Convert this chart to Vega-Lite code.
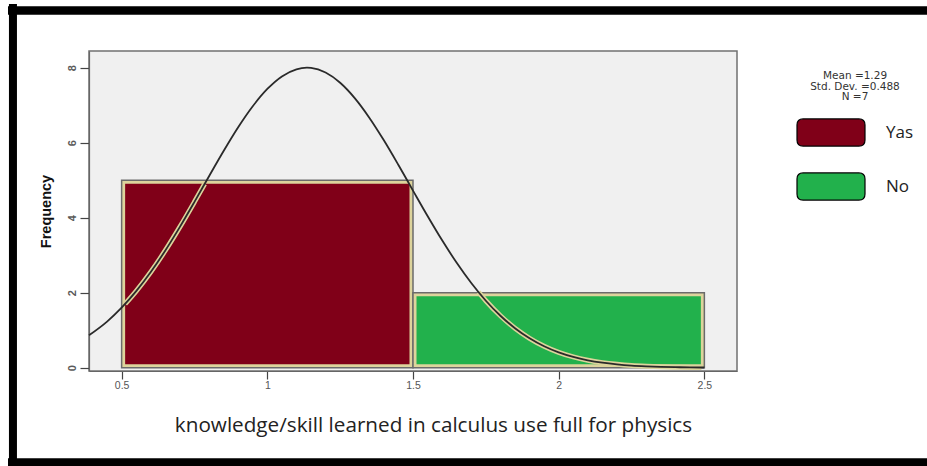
{
  "$schema": "https://vega.github.io/schema/vega-lite/v6.json",
  "width": 648,
  "height": 320,
  "autosize": {"type": "none"},
  "padding": {"left": 89, "top": 51, "right": 190, "bottom": 95},
  "background": "white",
  "view": {"fill": "#f0f0f0", "stroke": "#707070", "strokeWidth": 1.5},
  "config": {
    "font": "Liberation Sans",
    "axis": {"grid": false},
    "axisX": {
      "labelFont": "Liberation Sans", "labelFontSize": 10.5, "labelColor": "#555",
      "labelPadding": 1,
      "tickSize": 8, "tickColor": "#444", "tickWidth": 1.2,
      "domainColor": "#666", "domainWidth": 1.2,
      "titleFont": "Open Sans", "titleFontSize": 20.7, "titleFontWeight": "normal",
      "titleColor": "#222", "titleX": 344, "titleY": 54, "titleBaseline": "middle", "titleAlign": "center"
    },
    "axisY": {
      "labelAngle": 270, "labelFont": "Liberation Sans", "labelFontSize": 11,
      "labelFontWeight": "bold", "labelColor": "#5a5a5a", "labelPadding": 3,
      "tickSize": 9, "tickColor": "#444", "tickWidth": 1.2,
      "domainColor": "#666", "domainWidth": 1.2,
      "titleFont": "Liberation Sans", "titleFontSize": 14.5,
      "titleFontWeight": "bold", "titleColor": "#111", "titlePadding": 13
    }
  },
  "datasets": {
    "bins": [
      {"category": "Yas", "lo": 0.5, "hi": 1.5, "count": 5},
      {"category": "No", "lo": 1.5, "hi": 2.5, "count": 2}
    ],
    "curve": [
      {"x": 0.388, "y": 0.864}, {"x": 0.45, "y": 1.23}, {"x": 0.5, "y": 1.601}, {"x": 0.55, "y": 2.042},
      {"x": 0.6, "y": 2.551}, {"x": 0.65, "y": 3.126}, {"x": 0.7, "y": 3.755}, {"x": 0.75, "y": 4.422},
      {"x": 0.8, "y": 5.106}, {"x": 0.85, "y": 5.778}, {"x": 0.9, "y": 6.411}, {"x": 0.95, "y": 6.971},
      {"x": 1.0, "y": 7.432}, {"x": 1.05, "y": 7.768}, {"x": 1.1, "y": 7.958}, {"x": 1.136, "y": 8.0},
      {"x": 1.15, "y": 7.994}, {"x": 1.2, "y": 7.87}, {"x": 1.25, "y": 7.597}, {"x": 1.3, "y": 7.188},
      {"x": 1.35, "y": 6.667}, {"x": 1.4, "y": 6.063}, {"x": 1.45, "y": 5.405}, {"x": 1.5, "y": 4.723},
      {"x": 1.55, "y": 4.046}, {"x": 1.6, "y": 3.397}, {"x": 1.65, "y": 2.797}, {"x": 1.7, "y": 2.257},
      {"x": 1.75, "y": 1.785}, {"x": 1.8, "y": 1.385}, {"x": 1.85, "y": 1.053}, {"x": 1.9, "y": 0.785},
      {"x": 1.95, "y": 0.573}, {"x": 2.0, "y": 0.41}, {"x": 2.05, "y": 0.288}, {"x": 2.1, "y": 0.198},
      {"x": 2.15, "y": 0.134}, {"x": 2.2, "y": 0.089}, {"x": 2.25, "y": 0.057}, {"x": 2.3, "y": 0.037},
      {"x": 2.35, "y": 0.023}, {"x": 2.4, "y": 0.014}, {"x": 2.45, "y": 0.008}, {"x": 2.5, "y": 0.005}
    ],
    "halo": [
      {"seg": "a", "x": 0.512, "y": 1.7}, {"seg": "a", "x": 0.55, "y": 2.042}, {"seg": "a", "x": 0.6, "y": 2.551},
      {"seg": "a", "x": 0.65, "y": 3.126}, {"seg": "a", "x": 0.7, "y": 3.755}, {"seg": "a", "x": 0.75, "y": 4.422},
      {"seg": "a", "x": 0.785, "y": 4.9},
      {"seg": "b", "x": 1.725, "y": 2.013}, {"seg": "b", "x": 1.75, "y": 1.785}, {"seg": "b", "x": 1.8, "y": 1.385},
      {"seg": "b", "x": 1.85, "y": 1.053}, {"seg": "b", "x": 1.9, "y": 0.785}, {"seg": "b", "x": 1.95, "y": 0.573},
      {"seg": "b", "x": 2.0, "y": 0.41}, {"seg": "b", "x": 2.05, "y": 0.288}, {"seg": "b", "x": 2.1, "y": 0.198},
      {"seg": "b", "x": 2.15, "y": 0.134}, {"seg": "b", "x": 2.2, "y": 0.089}, {"seg": "b", "x": 2.25, "y": 0.057},
      {"seg": "b", "x": 2.3, "y": 0.037}, {"seg": "b", "x": 2.35, "y": 0.023}, {"seg": "b", "x": 2.4, "y": 0.014},
      {"seg": "b", "x": 2.45, "y": 0.008}, {"seg": "b", "x": 2.49, "y": 0.006}
    ],
    "hframe": [
      {"side": "top", "x": 0.11, "x2": 3.3, "y": 9.525},
      {"side": "bottom", "x": 0.11, "x2": 3.3, "y": -2.53}
    ],
    "vframe": [
      {"side": "left", "x": 0.127, "y": 9.7, "y2": -2.8}
    ]
  },
  "layer": [
    {
      "data": {"name": "bins"},
      "mark": {"type": "rect", "fill": "#ddd49c", "stroke": "#6b6b6b", "strokeWidth": 1.5},
      "encoding": {
        "x": {
          "field": "lo", "type": "quantitative",
          "title": "knowledge/skill learned in calculus use full for physics",
          "scale": {"domain": [0.388, 2.612], "nice": false, "zero": false},
          "axis": {"values": [0.5, 1, 1.5, 2, 2.5], "format": "~g"}
        },
        "x2": {"field": "hi"},
        "y": {
          "field": "count", "type": "quantitative", "title": "Frequency",
          "scale": {"domain": [-0.088, 8.445], "nice": false, "zero": false},
          "axis": {"values": [0, 2, 4, 6, 8]}
        },
        "y2": {"datum": 0}
      }
    },
    {
      "data": {"name": "bins"},
      "mark": {"type": "rect", "xOffset": 3.5, "x2Offset": -3.5, "yOffset": 3.5, "y2Offset": -3.5, "strokeWidth": 0},
      "encoding": {
        "x": {"field": "lo", "type": "quantitative", "title": "knowledge/skill learned in calculus use full for physics"},
        "x2": {"field": "hi"},
        "y": {"field": "count", "type": "quantitative", "title": "Frequency"},
        "y2": {"datum": 0},
        "color": {
          "field": "category", "type": "nominal",
          "scale": {"domain": ["Yas", "No"], "range": ["#800018", "#22b14c"]},
          "legend": {
            "orient": "none", "legendX": 707, "legendY": 20,
            "title": ["Mean =1.29", "Std. Dev. =0.488", "N =7"],
            "titleFont": "DejaVu Sans", "titleFontSize": 10.5, "titleFontWeight": "normal",
            "titleColor": "#333", "titleAlign": "center", "titleAnchor": "middle",
            "titleLineHeight": 10.5, "titlePadding": -5,
            "symbolType": "M-0.82,-0.4L0.82,-0.4Q1,-0.4 1,-0.22L1,0.22Q1,0.4 0.82,0.4L-0.82,0.4Q-1,0.4 -1,0.22L-1,-0.22Q-1,-0.4 -0.82,-0.4Z",
            "symbolSize": 4624, "symbolStrokeColor": "black", "symbolStrokeWidth": 1.2,
            "symbolOpacity": 1, "symbolFillOpacity": 1,
            "labelFont": "Open Sans", "labelFontSize": 17, "labelColor": "#222",
            "labelOffset": 20, "rowPadding": 3
          }
        }
      }
    },
    {
      "data": {"name": "halo"},
      "mark": {"type": "line", "color": "#ddd49c", "strokeWidth": 5, "interpolate": "monotone"},
      "encoding": {
        "x": {"field": "x", "type": "quantitative", "title": "knowledge/skill learned in calculus use full for physics"},
        "y": {"field": "y", "type": "quantitative", "title": "Frequency"},
        "detail": {"field": "seg", "type": "nominal"}
      }
    },
    {
      "data": {"name": "curve"},
      "mark": {"type": "line", "color": "#2a2a2a", "strokeWidth": 1.8, "interpolate": "monotone"},
      "encoding": {
        "x": {"field": "x", "type": "quantitative", "title": "knowledge/skill learned in calculus use full for physics"},
        "y": {"field": "y", "type": "quantitative", "title": "Frequency"}
      }
    },
    {
      "data": {"name": "hframe"},
      "mark": {"type": "rule", "color": "black", "strokeWidth": 8.5, "clip": false},
      "encoding": {
        "x": {"field": "x", "type": "quantitative", "title": "knowledge/skill learned in calculus use full for physics"},
        "x2": {"field": "x2"},
        "y": {"field": "y", "type": "quantitative", "title": "Frequency"}
      }
    },
    {
      "data": {"name": "vframe"},
      "mark": {"type": "rule", "color": "black", "strokeWidth": 8, "clip": false},
      "encoding": {
        "x": {"field": "x", "type": "quantitative", "title": "knowledge/skill learned in calculus use full for physics"},
        "y": {"field": "y", "type": "quantitative", "title": "Frequency"},
        "y2": {"field": "y2"}
      }
    }
  ]
}
